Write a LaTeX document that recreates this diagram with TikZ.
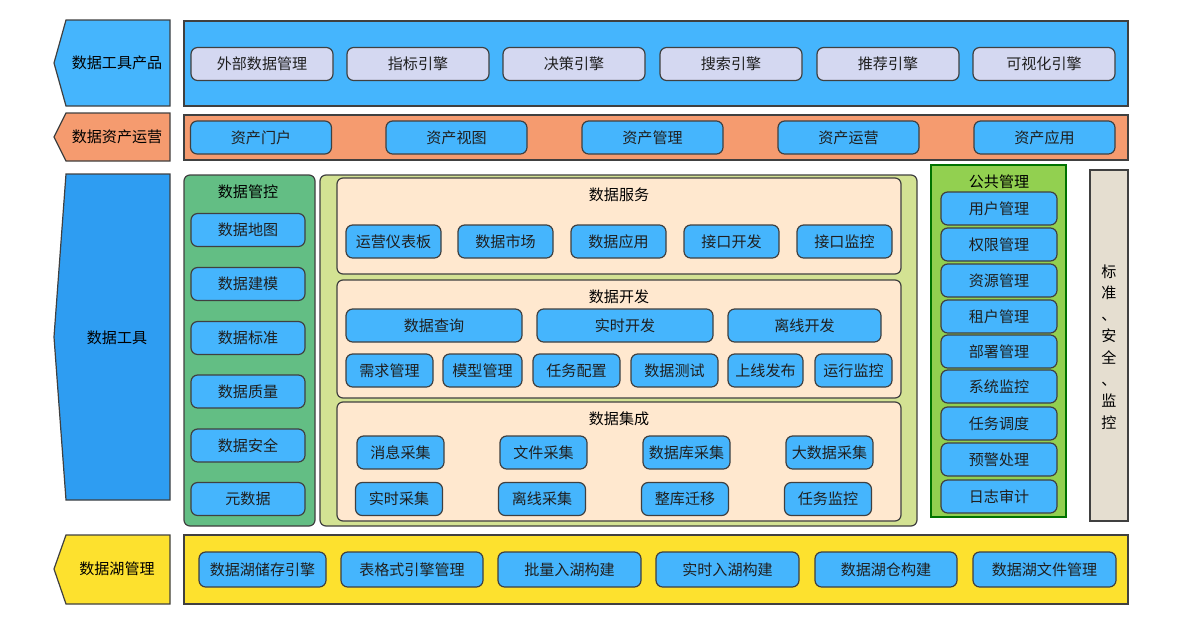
\documentclass[tikz,border=0pt]{standalone}
\usepackage{fontspec}
\setmainfont{Noto Sans CJK SC}

\definecolor{skyblue}{HTML}{45B5FD}
\definecolor{toolblue}{HTML}{2E9DF2}
\definecolor{lavender}{HTML}{D4D8F1}
\definecolor{salmon}{HTML}{F59B6F}
\definecolor{ctrlgreen}{HTML}{63BE84}
\definecolor{palegreen}{HTML}{D3E293}
\definecolor{bisque}{HTML}{FFE8CF}
\definecolor{pubgreen}{HTML}{92D050}
\definecolor{beige}{HTML}{E5DED0}
\definecolor{lake}{HTML}{FDE12E}
\definecolor{edge}{HTML}{404040}

\begin{document}
\begin{tikzpicture}[x=0.75pt, y=-0.75pt, font=\fontsize{11.3}{13}\selectfont,
    tag/.style={draw=edge, line width=0.9pt},
    panel/.style={draw=edge, line width=0.9pt, rounded corners=4.5pt},
    box/.style={draw=edge, line width=0.9pt, rounded corners=5pt, fill=skyblue,
        minimum height=33*0.75pt, inner sep=0pt, text=black!88},
    w/.style={minimum width=#1*0.75pt}]
    \useasboundingbox (0,0) rectangle (1200,625);

    % 数据工具产品
    \draw[tag, fill=skyblue] (54,63) -- (66,20) -- (170,20) -- (170,106) -- (66,106) -- cycle;
    \node (prod) at (117,63) {数据工具产品};
    \draw[tag, fill=skyblue] (184,21) rectangle (1128,106);
    \node[box, fill=lavender, w=142] (ext) at (262,64) {外部数据管理};
    \node[box, fill=lavender, w=142] (idx) at (418,64) {指标引擎};
    \node[box, fill=lavender, w=142] (dec) at (574,64) {决策引擎};
    \node[box, fill=lavender, w=142] (srch) at (731,64) {搜索引擎};
    \node[box, fill=lavender, w=142] (rec) at (888,64) {推荐引擎};
    \node[box, fill=lavender, w=142] (vis) at (1044,64) {可视化引擎};

    % 数据资产运营
    \draw[tag, fill=salmon] (54,137) -- (66,113) -- (170,113) -- (170,161) -- (66,161) -- cycle;
    \node (asset) at (117,137) {数据资产运营};
    \draw[tag, fill=salmon] (184,115) rectangle (1128,160);
    \node[box, w=141] (a1) at (261,137.5) {资产门户};
    \node[box, w=141] (a2) at (456.5,137.5) {资产视图};
    \node[box, w=141] (a3) at (652.5,137.5) {资产管理};
    \node[box, w=141] (a4) at (848.5,137.5) {资产运营};
    \node[box, w=141] (a5) at (1044.5,137.5) {资产应用};

    % 数据工具
    \draw[tag, fill=toolblue] (54,337) -- (66,174) -- (170,174) -- (170,500) -- (66,500) -- cycle;
    \node (tools) at (117,338) {数据工具};

    % 数据管控
    \draw[panel, fill=ctrlgreen] (184,175) rectangle (315,526);
    \node (ctrl) at (248,192) {数据管控};
    \node[box, w=114] (c1) at (248,230) {数据地图};
    \node[box, w=114] (c2) at (248,284) {数据建模};
    \node[box, w=114] (c3) at (248,338) {数据标准};
    \node[box, w=114] (c4) at (248,391.5) {数据质量};
    \node[box, w=114] (c5) at (248,445.5) {数据安全};
    \node[box, w=114] (c6) at (248,499) {元数据};

    \draw[panel, fill=palegreen] (320,175) rectangle (917,526);

    % 数据服务
    \draw[panel, fill=bisque] (337,178) rectangle (901,274);
    \node (serv) at (619,195) {数据服务};
    \node[box, w=95] (s1) at (393.5,241.5) {运营仪表板};
    \node[box, w=95] (s2) at (505.5,241.5) {数据市场};
    \node[box, w=95] (s3) at (618.5,241.5) {数据应用};
    \node[box, w=95] (s4) at (731.5,241.5) {接口开发};
    \node[box, w=95] (s5) at (844.5,241.5) {接口监控};

    % 数据开发
    \draw[panel, fill=bisque] (337,280) rectangle (901,398);
    \node (dev) at (619,297) {数据开发};
    \node[box, w=176] (d1) at (434,325.5) {数据查询};
    \node[box, w=176] (d2) at (625,325.5) {实时开发};
    \node[box, w=153] (d3) at (804.5,325.5) {离线开发};
    \node[box, w=87] (d4) at (389.5,370.5) {需求管理};
    \node[box, w=79] (d5) at (482.5,370.5) {模型管理};
    \node[box, w=87] (d6) at (576.5,370.5) {任务配置};
    \node[box, w=87] (d7) at (674.5,370.5) {数据测试};
    \node[box, w=75] (d8) at (765.5,370.5) {上线发布};
    \node[box, w=77] (d9) at (853.5,370.5) {运行监控};

    % 数据集成
    \draw[panel, fill=bisque] (337,402) rectangle (901,521);
    \node (integ) at (619,419) {数据集成};
    \node[box, w=87] (g1) at (400.5,452.5) {消息采集};
    \node[box, w=87] (g2) at (543.5,452.5) {文件采集};
    \node[box, w=87] (g3) at (686.5,452.5) {数据库采集};
    \node[box, w=87] (g4) at (829.5,452.5) {大数据采集};
    \node[box, w=87] (g5) at (399,499) {实时采集};
    \node[box, w=87] (g6) at (542,499) {离线采集};
    \node[box, w=87] (g7) at (685,499) {整库迁移};
    \node[box, w=87] (g8) at (828,499) {任务监控};

    % 公共管理
    \draw[draw=green!45!black, line width=0.9pt, fill=pubgreen] (931,165) rectangle (1066,517);
    \node (pub) at (999,182) {公共管理};
    \node[box, w=116] (p1) at (999,208.5) {用户管理};
    \node[box, w=116] (p2) at (999,244.5) {权限管理};
    \node[box, w=116] (p3) at (999,280.5) {资源管理};
    \node[box, w=116] (p4) at (999,316.5) {租户管理};
    \node[box, w=116] (p5) at (999,351.5) {部署管理};
    \node[box, w=116] (p6) at (999,386.5) {系统监控};
    \node[box, w=116] (p7) at (999,423.5) {任务调度};
    \node[box, w=116] (p8) at (999,459.5) {预警处理};
    \node[box, w=116] (p9) at (999,496.5) {日志审计};

    \draw[tag, fill=beige] (1090,170) rectangle (1128,521);
    \node[align=center, inner sep=0pt, font=\fontsize{11.3}{16.2}\selectfont] (std) at (1109,347)
        {标\\准\\、\\安\\全\\、\\监\\控};

    % 数据湖管理
    \draw[tag, fill=lake] (54,569) -- (66,535) -- (170,535) -- (170,604) -- (66,604) -- cycle;
    \node (lakemgr) at (117,569) {数据湖管理};
    \draw[tag, fill=lake] (184,535) rectangle (1128,604);
    \node[box, w=127, minimum height=35*0.75pt] (l1) at (262.5,569.5) {数据湖储存引擎};
    \node[box, w=142, minimum height=35*0.75pt] (l2) at (412,569.5) {表格式引擎管理};
    \node[box, w=143, minimum height=35*0.75pt] (l3) at (569.5,569.5) {批量入湖构建};
    \node[box, w=143, minimum height=35*0.75pt] (l4) at (727.5,569.5) {实时入湖构建};
    \node[box, w=142, minimum height=35*0.75pt] (l5) at (886,569.5) {数据湖仓构建};
    \node[box, w=143, minimum height=35*0.75pt] (l6) at (1044.5,569.5) {数据湖文件管理};
\end{tikzpicture}
\end{document}
